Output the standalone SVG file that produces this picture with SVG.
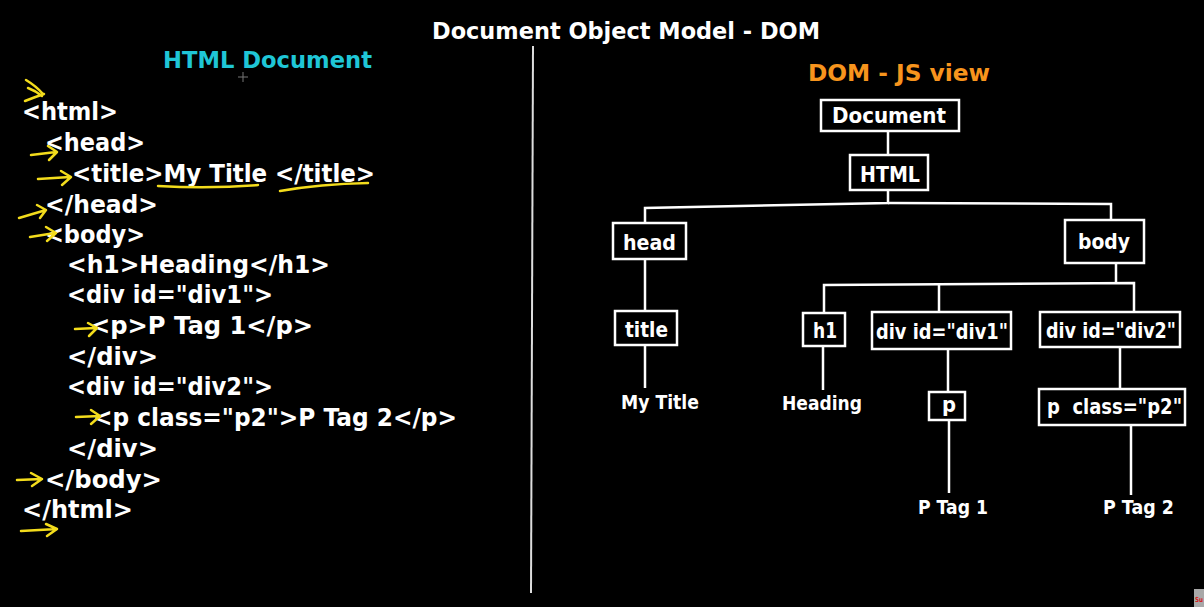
<svg xmlns="http://www.w3.org/2000/svg" width="1204" height="607" viewBox="0 0 1204 607">
<style>
text{font-family:"DejaVu Sans","Liberation Sans",sans-serif;font-weight:bold;fill:#fff}
.code{font-size:24px}
.node{font-size:21px}
.leaf{font-size:20px}
.box{fill:none;stroke:#fff;stroke-width:2.5}
.conn{fill:none;stroke:#fff;stroke-width:2.5}
.yel{fill:none;stroke:#f3dc1c;stroke-width:2.5;stroke-linecap:round;stroke-linejoin:round}
</style>
<rect width="1204" height="607" fill="#000"/>
<text x="432" y="39" font-size="23" textLength="388" lengthAdjust="spacingAndGlyphs">Document Object Model - DOM</text>
<line x1="533" y1="46" x2="531" y2="593" stroke="#ddd" stroke-width="2"/>
<text x="163" y="68" font-size="23" textLength="209" lengthAdjust="spacingAndGlyphs" style="fill:#1fc6d6">HTML Document</text>
<path d="M243,72 v10 M238,77 h10" stroke="#777" stroke-width="1" fill="none"/>
<g id="code">
<text class="code" x="22" y="120" textLength="96" lengthAdjust="spacingAndGlyphs">&lt;html&gt;</text>
<text class="code" x="45" y="151" textLength="100" lengthAdjust="spacingAndGlyphs">&lt;head&gt;</text>
<text class="code" x="72" y="182" textLength="303" lengthAdjust="spacingAndGlyphs">&lt;title&gt;My Title &lt;/title&gt;</text>
<text class="code" x="45" y="213" textLength="113" lengthAdjust="spacingAndGlyphs">&lt;/head&gt;</text>
<text class="code" x="45" y="243" textLength="100" lengthAdjust="spacingAndGlyphs">&lt;body&gt;</text>
<text class="code" x="67" y="273" textLength="263" lengthAdjust="spacingAndGlyphs">&lt;h1&gt;Heading&lt;/h1&gt;</text>
<text class="code" x="67" y="303" textLength="206" lengthAdjust="spacingAndGlyphs">&lt;div id="div1"&gt;</text>
<text class="code" x="90" y="334" textLength="223" lengthAdjust="spacingAndGlyphs">&lt;p&gt;P Tag 1&lt;/p&gt;</text>
<text class="code" x="67" y="365" textLength="91" lengthAdjust="spacingAndGlyphs">&lt;/div&gt;</text>
<text class="code" x="67" y="395" textLength="206" lengthAdjust="spacingAndGlyphs">&lt;div id="div2"&gt;</text>
<text class="code" x="93" y="426" textLength="364" lengthAdjust="spacingAndGlyphs">&lt;p class="p2"&gt;P Tag 2&lt;/p&gt;</text>
<text class="code" x="67" y="457" textLength="91" lengthAdjust="spacingAndGlyphs">&lt;/div&gt;</text>
<text class="code" x="45" y="488" textLength="117" lengthAdjust="spacingAndGlyphs">&lt;/body&gt;</text>
<text class="code" x="22" y="518" textLength="111" lengthAdjust="spacingAndGlyphs">&lt;/html&gt;</text>
</g>
<g id="annotations">
<path class="yel" d="M26,80 Q36,86 43,94 M25,101 Q35,97 44,94 M28,88 Q36,91 42,96"/>
<path class="yel" d="M31,155 L56,152 M48,146 L57,152 L49,160"/>
<path class="yel" d="M38,179 L70,177 M61,171 L71,177 L62,185"/>
<path class="yel" d="M19,218 L46,210 M37,205 L46,210 L40,218"/>
<path class="yel" d="M30,237 L55,233 M46,227 L56,233 L47,241"/>
<path class="yel" d="M75,329 L96,328 M88,323 L97,328 L89,336"/>
<path class="yel" d="M76,417 L100,416 M91,410 L100,416 L91,424"/>
<path class="yel" d="M17,480 L42,479 M31,473 L42,479 L32,486"/>
<path class="yel" d="M21,531 L57,529 M46,524 L57,529 L47,536"/>
<path class="yel" d="M158,186 Q210,189 258,185"/>
<path class="yel" d="M280,191 Q320,184 368,183"/>
</g>
<text x="808" y="81" font-size="23" textLength="182" lengthAdjust="spacingAndGlyphs" style="fill:#f7941d">DOM - JS view</text>
<g id="connectors">
<line class="conn" x1="888" y1="131" x2="888" y2="155"/>
<polyline class="conn" points="645,223 645,208 888,203 888,190"/>
<polyline class="conn" points="888,203 1111,204 1111,220"/>
<line class="conn" x1="645" y1="259" x2="645" y2="311"/>
<line class="conn" x1="645" y1="345" x2="645" y2="388"/>
<polyline class="conn" points="1116,263 1116,283"/>
<polyline class="conn" points="824,313 824,285 1134,283 1134,312"/>
<line class="conn" x1="939" y1="284" x2="939" y2="312"/>
<line class="conn" x1="823" y1="346" x2="823" y2="390"/>
<line class="conn" x1="948" y1="349" x2="948" y2="392"/>
<line class="conn" x1="949" y1="420" x2="949" y2="493"/>
<line class="conn" x1="1120" y1="347" x2="1120" y2="389"/>
<line class="conn" x1="1131" y1="425" x2="1131" y2="495"/>
</g>
<g id="n-document"><rect class="box" x="821" y="100" width="138" height="31"/><text class="node" x="832" y="123" textLength="114" lengthAdjust="spacingAndGlyphs">Document</text></g>
<g id="n-html"><rect class="box" x="850" y="155" width="78" height="35"/><text class="node" x="860" y="182" textLength="60" lengthAdjust="spacingAndGlyphs">HTML</text></g>
<g id="n-head"><rect class="box" x="613" y="223" width="73" height="36"/><text class="node" x="623" y="250" textLength="53" lengthAdjust="spacingAndGlyphs">head</text></g>
<g id="n-body"><rect class="box" x="1065" y="220" width="79" height="43"/><text class="node" x="1078" y="249" textLength="52" lengthAdjust="spacingAndGlyphs">body</text></g>
<g id="n-title"><rect class="box" x="615" y="311" width="62" height="34"/><text class="node" x="625" y="337" textLength="43" lengthAdjust="spacingAndGlyphs">title</text></g>
<g id="n-h1"><rect class="box" x="803" y="313" width="42" height="33"/><text class="node" x="813" y="338" textLength="24" lengthAdjust="spacingAndGlyphs">h1</text></g>
<g id="n-div1"><rect class="box" x="872" y="312" width="139" height="37"/><text class="node" x="876" y="339" textLength="132" lengthAdjust="spacingAndGlyphs">div id="div1"</text></g>
<g id="n-div2"><rect class="box" x="1040" y="312" width="140" height="35"/><text class="node" x="1046" y="338" textLength="130" lengthAdjust="spacingAndGlyphs">div id="div2"</text></g>
<g id="n-p1"><rect class="box" x="929" y="392" width="36" height="28"/><text class="node" x="942" y="412" textLength="14" lengthAdjust="spacingAndGlyphs">p</text></g>
<g id="n-p2"><rect class="box" x="1039" y="389" width="146" height="36"/><text class="node" x="1047" y="414" textLength="135" lengthAdjust="spacingAndGlyphs" style="white-space:pre">p  class="p2"</text></g>
<g id="n-mytitle"><text class="leaf" x="621" y="409" textLength="78" lengthAdjust="spacingAndGlyphs">My Title</text></g>
<g id="n-heading"><text class="leaf" x="782" y="410" textLength="80" lengthAdjust="spacingAndGlyphs">Heading</text></g>
<g id="n-ptag1"><text class="leaf" x="918" y="514" textLength="70" lengthAdjust="spacingAndGlyphs">P Tag 1</text></g>
<g id="n-ptag2"><text class="leaf" x="1103" y="514" textLength="71" lengthAdjust="spacingAndGlyphs">P Tag 2</text></g>
<rect x="1194" y="589" width="10" height="18" fill="#a8a8a8"/>
<text x="1195" y="602" font-size="7" textLength="8" lengthAdjust="spacingAndGlyphs" style="fill:#d42020">Su</text>
</svg>
